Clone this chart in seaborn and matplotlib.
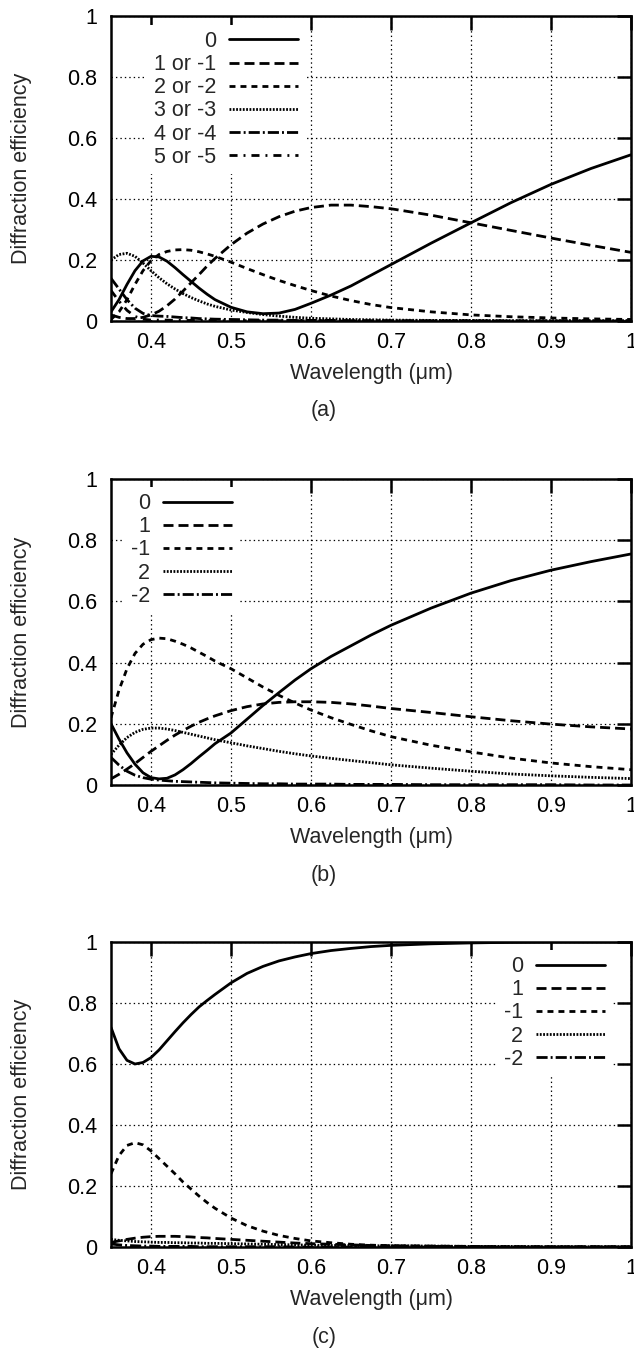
import matplotlib
matplotlib.use("Agg")
import matplotlib.pyplot as plt
from matplotlib.lines import Line2D
import pandas as pd
import seaborn as sns

# wavelength grid (um) the curves were read at
WAVELENGTH = [0.35, 0.36, 0.37, 0.38, 0.39, 0.40, 0.41, 0.42, 0.43, 0.44,
              0.45, 0.46, 0.47, 0.48, 0.50, 0.52, 0.54, 0.56, 0.58, 0.60,
              0.625, 0.65, 0.675, 0.70, 0.75, 0.80, 0.85, 0.90, 0.95, 1.00]

# panel (a)
A_LABELS = ["0", "1 or -1", "2 or -2", "3 or -3", "4 or -4", "5 or -5"]
A_ORDER_0 = [0.03, 0.07, 0.12, 0.165, 0.197, 0.212, 0.21, 0.196, 0.175, 0.152,
             0.13, 0.108, 0.088, 0.07, 0.045, 0.03, 0.024, 0.026, 0.038, 0.058,
             0.085, 0.115, 0.15, 0.185, 0.255, 0.322, 0.388, 0.448, 0.5, 0.545]
A_ORDER_1 = [0.02, 0.012, 0.008, 0.008, 0.012, 0.02, 0.032, 0.05, 0.072, 0.098,
             0.125, 0.152, 0.18, 0.205, 0.25, 0.288, 0.318, 0.342, 0.36, 0.372,
             0.38, 0.38, 0.375, 0.368, 0.347, 0.322, 0.297, 0.272, 0.248, 0.225]
A_ORDER_2 = [0.005, 0.03, 0.07, 0.12, 0.165, 0.198, 0.218, 0.228, 0.233, 0.234,
             0.232, 0.227, 0.22, 0.212, 0.193, 0.172, 0.152, 0.133, 0.116, 0.1,
             0.082, 0.067, 0.054, 0.044, 0.03, 0.02, 0.014, 0.01, 0.007, 0.005]
A_ORDER_3 = [0.2, 0.218, 0.222, 0.212, 0.19, 0.165, 0.142, 0.122, 0.105, 0.09,
             0.077, 0.066, 0.056, 0.048, 0.036, 0.028, 0.021, 0.016, 0.012, 0.009,
             0.007, 0.005, 0.004, 0.003, 0.002, 0.002, 0.001, 0.001, 0.001, 0.001]
A_ORDER_4 = [0.14, 0.105, 0.07, 0.042, 0.025, 0.018, 0.016, 0.015, 0.013, 0.011,
             0.01, 0.008, 0.007, 0.006, 0.005, 0.004, 0.003, 0.003, 0.002, 0.002,
             0.002, 0.001, 0.001, 0.001, 0.001, 0.001, 0.0, 0.0, 0.0, 0.0]
A_ORDER_5 = [0.1, 0.065, 0.035, 0.015, 0.006, 0.003, 0.003, 0.003, 0.002, 0.002,
             0.002, 0.002, 0.002, 0.001, 0.001, 0.001, 0.001, 0.001, 0.001, 0.001,
             0.0, 0.0, 0.0, 0.0, 0.0, 0.0, 0.0, 0.0, 0.0, 0.0]

# panel (b)
B_LABELS = ["0", "1", "-1", "2", "-2"]
B_ORDER_0 = [0.2, 0.15, 0.105, 0.068, 0.04, 0.024, 0.02, 0.022, 0.033, 0.05,
             0.07, 0.092, 0.113, 0.135, 0.17, 0.215, 0.26, 0.302, 0.343, 0.38,
             0.42, 0.455, 0.49, 0.522, 0.578, 0.627, 0.668, 0.702, 0.73, 0.755]
B_ORDER_P1 = [0.02, 0.035, 0.052, 0.07, 0.09, 0.11, 0.128, 0.146, 0.163, 0.178,
              0.192, 0.205, 0.216, 0.226, 0.243, 0.256, 0.265, 0.27, 0.272, 0.272,
              0.27, 0.265, 0.258, 0.25, 0.237, 0.223, 0.21, 0.199, 0.19, 0.183]
B_ORDER_M1 = [0.22, 0.31, 0.38, 0.43, 0.46, 0.475, 0.48, 0.478, 0.47, 0.46,
              0.448, 0.434, 0.42, 0.405, 0.38, 0.35, 0.32, 0.293, 0.268, 0.245,
              0.22, 0.198, 0.177, 0.158, 0.13, 0.108, 0.088, 0.072, 0.06, 0.05]
B_ORDER_P2 = [0.1, 0.13, 0.155, 0.172, 0.182, 0.186, 0.186, 0.183, 0.178, 0.172,
              0.166, 0.16, 0.154, 0.148, 0.138, 0.128, 0.119, 0.11, 0.102, 0.095,
              0.087, 0.08, 0.073, 0.066, 0.055, 0.045, 0.036, 0.03, 0.025, 0.021]
B_ORDER_M2 = [0.09, 0.065, 0.045, 0.032, 0.024, 0.019, 0.016, 0.014, 0.012, 0.011,
              0.01, 0.009, 0.008, 0.007, 0.006, 0.005, 0.004, 0.004, 0.003, 0.003,
              0.003, 0.002, 0.002, 0.002, 0.001, 0.001, 0.001, 0.001, 0.0, 0.0]

# panel (c)
C_LABELS = ["0", "1", "-1", "2", "-2"]
C_ORDER_0 = [0.72, 0.65, 0.612, 0.6, 0.605, 0.621, 0.646, 0.676, 0.706, 0.735,
             0.762, 0.787, 0.808, 0.828, 0.866, 0.897, 0.92, 0.938, 0.951, 0.962,
             0.972, 0.979, 0.985, 0.989, 0.994, 0.997, 0.999, 1.0, 1.0, 1.0]
C_ORDER_P1 = [0.015, 0.02, 0.025, 0.029, 0.032, 0.034, 0.035, 0.035, 0.035, 0.034,
              0.033, 0.031, 0.03, 0.028, 0.025, 0.022, 0.019, 0.016, 0.013, 0.011,
              0.009, 0.007, 0.005, 0.004, 0.003, 0.002, 0.001, 0.001, 0.001, 0.001]
C_ORDER_M1 = [0.24, 0.3, 0.333, 0.342, 0.335, 0.315, 0.29, 0.265, 0.24, 0.213,
              0.19, 0.167, 0.146, 0.127, 0.095, 0.07, 0.052, 0.038, 0.028, 0.02,
              0.014, 0.009, 0.006, 0.004, 0.002, 0.001, 0.0, 0.0, 0.0, 0.0]
C_ORDER_P2 = [0.025, 0.022, 0.02, 0.018, 0.017, 0.016, 0.015, 0.015, 0.014, 0.014,
              0.013, 0.013, 0.012, 0.012, 0.011, 0.01, 0.009, 0.008, 0.007, 0.006,
              0.005, 0.005, 0.004, 0.004, 0.003, 0.002, 0.002, 0.001, 0.001, 0.001]
C_ORDER_M2 = [0.01, 0.007, 0.005, 0.004, 0.003, 0.003, 0.002, 0.002, 0.002, 0.002,
              0.002, 0.001, 0.001, 0.001, 0.001, 0.001, 0.001, 0.001, 0.0, 0.0,
              0.0, 0.0, 0.0, 0.0, 0.0, 0.0, 0.0, 0.0, 0.0, 0.0]

X_TICKS = [0.4, 0.5, 0.6, 0.7, 0.8, 0.9, 1.0]
X_TICK_LABELS = ["0.4", "0.5", "0.6", "0.7", "0.8", "0.9", "1"]
Y_TICKS = [0, 0.2, 0.4, 0.6, 0.8, 1.0]
Y_TICK_LABELS = ["0", "0.2", "0.4", "0.6", "0.8", "1"]

# gnuplot-like line types (points, unscaled)
SOLID = ""
LONG_DASH = (7.2, 3.6)
MED_DASH = (4.3, 3.6)
DOTS = (1.3, 1.1)
LONG_DASH_DOT = (8, 2.2, 1.4, 2.2)
DASH_DOT = (5.8, 4.3, 1.4, 4.3)

LW = 2.0
FS = 15.5

sns.set_style("white")
plt.rcParams['font.family'] = ['Liberation Sans', 'DejaVu Sans']
plt.rcParams['lines.scale_dashes'] = False
plt.rcParams['axes.unicode_minus'] = False


def draw_panel(ax, labels, series, styles, legend_anchor, legend_loc):
    df = pd.concat([pd.DataFrame({'wavelength': WAVELENGTH, 'efficiency': vals, 'order': lab})
                    for lab, vals in zip(labels, series)], ignore_index=True)
    dash_map = dict(zip(labels, styles))
    sns.lineplot(data=df, x='wavelength', y='efficiency', style='order',
                 style_order=labels, dashes=dash_map, color='black',
                 linewidth=LW, errorbar=None, legend=False, ax=ax)

    ax.set_xlim(0.35, 1.0)
    ax.set_ylim(0, 1)
    ax.set_xticks(X_TICKS)
    ax.set_xticklabels(X_TICK_LABELS)
    ax.set_yticks(Y_TICKS)
    ax.set_yticklabels(Y_TICK_LABELS)
    ax.grid(True, color='black', linestyle=(0, (1.0, 2.2)), linewidth=0.9)
    ax.tick_params(direction='in', length=10, width=1.8, top=True, right=True,
                   labelsize=FS, colors='black')
    ax.tick_params(axis='x', pad=8)
    ax.tick_params(axis='y', pad=10)
    for s in ax.spines.values():
        s.set_linewidth(1.8)
        s.set_color('black')

    ax.set_xlabel('Wavelength (μm)', fontsize=FS)
    ax.set_ylabel('Diffraction efficiency', fontsize=FS)
    ax.xaxis.set_label_coords(0.5, -0.137)
    ax.yaxis.set_label_coords(-0.151, 0.5)

    # legend: label on the left, sample on the right (gnuplot key)
    handles = [Line2D([], [], color='black', linewidth=LW, dashes=d) for d in styles]
    leg = ax.legend(handles, labels, loc=legend_loc, bbox_to_anchor=legend_anchor,
                    markerfirst=False, fontsize=FS, frameon=True, fancybox=False,
                    framealpha=1, facecolor='white', edgecolor='none',
                    handlelength=3.2, handletextpad=0.6, labelspacing=0.1,
                    borderpad=0.3, borderaxespad=0)
    leg.get_frame().set_linewidth(0)


fig = plt.figure(figsize=(6.34, 13.53), dpi=100)

ax_a = fig.add_axes([111 / 634, 1 - 321 / 1353, 520 / 634, 305 / 1353])
draw_panel(ax_a, A_LABELS,
           [A_ORDER_0, A_ORDER_1, A_ORDER_2, A_ORDER_3, A_ORDER_4, A_ORDER_5],
           [SOLID, LONG_DASH, MED_DASH, DOTS, LONG_DASH_DOT, DASH_DOT],
           (0.372, 0.972), 'upper right')

ax_b = fig.add_axes([111 / 634, 1 - 785 / 1353, 520 / 634, 306 / 1353])
draw_panel(ax_b, B_LABELS,
           [B_ORDER_0, B_ORDER_P1, B_ORDER_M1, B_ORDER_P2, B_ORDER_M2],
           [SOLID, LONG_DASH, MED_DASH, DOTS, LONG_DASH_DOT],
           (0.245, 0.975), 'upper right')

ax_c = fig.add_axes([111 / 634, 1 - 1247 / 1353, 520 / 634, 305 / 1353])
draw_panel(ax_c, C_LABELS,
           [C_ORDER_0, C_ORDER_P1, C_ORDER_M1, C_ORDER_P2, C_ORDER_M2],
           [SOLID, LONG_DASH, MED_DASH, DOTS, LONG_DASH_DOT],
           (0.9625, 0.975), 'upper right')

# panel captions
for tag, ypix in [("(a)", 411), ("(b)", 875), ("(c)", 1337)]:
    fig.text(324 / 634, 1 - ypix / 1353, tag, ha='center', va='center', fontsize=FS)

fig.savefig('out.png', dpi=100)
